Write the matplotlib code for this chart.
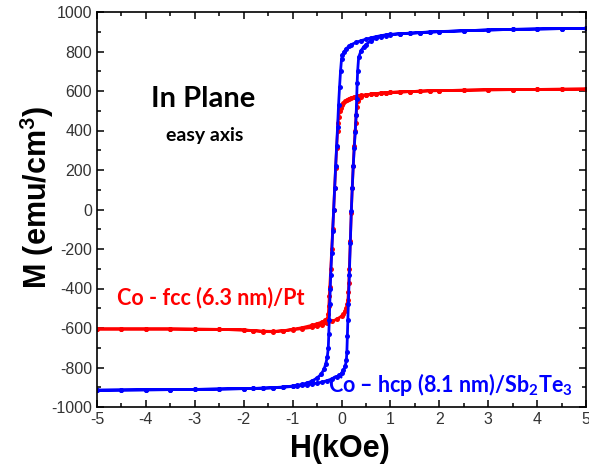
import numpy as np
import matplotlib
matplotlib.use("Agg")
import matplotlib.pyplot as plt
from matplotlib.ticker import MultipleLocator

plt.rcParams['font.family'] = ['Liberation Sans', 'DejaVu Sans']
plt.rcParams['axes.unicode_minus'] = False
plt.rcParams['mathtext.fontset'] = 'custom'
plt.rcParams['mathtext.rm'] = 'Lato:bold'
plt.rcParams['mathtext.it'] = 'Lato:bold'
plt.rcParams['mathtext.bf'] = 'Lato:bold'

# Blue: Co-hcp (8.1 nm)/Sb2Te3 -- descending branch (+5 -> -5)
H_bd = [5, 4.5, 4, 3.5, 3, 2.5, 2, 1.8, 1.6, 1.4, 1.2, 1.0, 0.9, 0.8, 0.7, 0.6, 0.5, 0.4, 0.3, 0.2,
        0.15, 0.1, 0.05, 0.02, 0.0, -0.02, -0.04, -0.06, -0.08, -0.10, -0.12, -0.14, -0.16, -0.18, -0.20,
        -0.22, -0.23, -0.24, -0.25, -0.26, -0.27, -0.29, -0.32, -0.36, -0.42, -0.5, -0.6, -0.7, -0.8, -0.9,
        -1.0, -1.2, -1.4, -1.6, -1.8, -2, -2.5, -3, -3.5, -4, -4.5, -5]
M_bd = [917, 916, 914, 912, 909, 905, 900, 898, 895, 892, 890, 887, 884, 880, 875, 869, 862, 855, 846, 835,
        826, 815, 798, 782, 760, 700, 620, 530, 420, 320, 220, 110, 0, -110, -220,
        -330, -400, -480, -560, -630, -700, -745, -780, -810, -835, -853, -868, -878, -885, -890,
        -894, -899, -902, -904, -906, -907, -909, -911, -912, -913, -914, -915]
# Blue ascending branch (-5 -> +5)
H_ba = [-5, -4.5, -4, -3.5, -3, -2.5, -2, -1.8, -1.6, -1.4, -1.2, -1.0, -0.9, -0.8, -0.7, -0.6, -0.5, -0.4,
        -0.3, -0.2, -0.1, -0.05, 0.0, 0.04, 0.08, 0.10, 0.11, 0.12, 0.13, 0.14, 0.16, 0.18, 0.20, 0.22,
        0.24, 0.26, 0.28, 0.30, 0.31, 0.32, 0.33, 0.35, 0.40, 0.45, 0.5, 0.6, 0.7, 0.8, 0.9, 1.0, 1.2, 1.4,
        1.6, 1.8, 2, 2.5, 3, 3.5, 4, 4.5, 5]
M_ba = [-915, -914, -913, -912, -911, -909, -907, -906, -905, -903, -900, -896, -894, -891, -887, -883, -879, -874,
        -867, -858, -847, -840, -830, -815, -790, -760, -720, -640, -560, -480, -330, -170, -10, 110,
        220, 310, 390, 480, 560, 640, 700, 770, 805, 822, 835, 855, 867, 875, 881, 885, 890, 893,
        896, 899, 901, 905, 909, 912, 914, 916, 917]

# Red: Co-fcc (6.3 nm)/Pt -- descending branch (+5 -> -5)
H_rd = [5, 4.5, 4, 3.5, 3, 2.5, 2, 1.8, 1.6, 1.4, 1.2, 1.0, 0.9, 0.8, 0.7, 0.6, 0.5, 0.4, 0.33, 0.25,
        0.2, 0.15, 0.12, 0.08, 0.04, 0.0, -0.02, -0.04, -0.06, -0.07, -0.08, -0.10, -0.12, -0.14, -0.16,
        -0.18, -0.20, -0.22, -0.24, -0.25, -0.26, -0.27, -0.29, -0.33, -0.4, -0.5, -0.6, -0.8, -1.0, -1.2,
        -1.4, -1.6, -1.8, -2, -2.5, -3, -3.5, -4, -4.5, -5]
M_rd = [610, 609, 608, 607, 606, 604, 602, 601, 599, 597, 595, 593, 591, 589, 587, 584, 581, 578, 575, 569,
        565, 561, 556, 549, 540, 528, 515, 498, 470, 440, 400, 310, 210, 110, 0,
        -100, -200, -300, -390, -440, -490, -530, -552, -562, -570, -578, -586, -598, -607, -614,
        -619, -618, -614, -610, -607, -606, -605, -605, -605, -605]
# Red ascending branch (-5 -> +5)
H_ra = [-5, -4.5, -4, -3.5, -3, -2.5, -2, -1.8, -1.6, -1.4, -1.2, -1.0, -0.8, -0.6, -0.5, -0.4, -0.3, -0.2,
        -0.1, 0.0, 0.04, 0.08, 0.1, 0.12, 0.13, 0.14, 0.15, 0.16, 0.18, 0.20, 0.22, 0.24, 0.26, 0.28, 0.29,
        0.30, 0.31, 0.33, 0.36, 0.4, 0.5, 0.6, 0.7, 0.8, 0.9, 1.0, 1.2, 1.4, 1.6, 1.8, 2, 2.5, 3, 3.5, 4,
        4.5, 5]
M_ra = [-605, -605, -605, -605, -606, -607, -610, -613, -616, -617, -614, -609, -603, -597, -590, -584, -576, -567,
        -556, -540, -530, -515, -500, -480, -460, -420, -370, -300, -160, -20, 110, 220, 320, 400, 440,
        480, 520, 550, 565, 572, 580, 584, 587, 589, 591, 593, 595, 597, 599, 601, 602, 604, 606, 607, 608,
        609, 610]

x_label = 'H(kOe)'
y_label = r'M (emu/cm$^{\mathbf{3}}$)'
title1 = 'In Plane'
title2 = 'easy axis'
red_label = 'Co - fcc (6.3 nm)/Pt'
blue_label = r'Co – hcp (8.1 nm)/Sb$_2$Te$_3$'

W, Hh = 589, 468
fig = plt.figure(figsize=(W / 100, Hh / 100), dpi=100)
L, R, T, B = 97, 586, 12, 407
ax = fig.add_axes([L / W, 1 - B / Hh, (R - L) / W, (B - T) / Hh])

ax.plot(H_rd + H_ra, M_rd + M_ra, color='#ff0000', lw=2.0, marker='o', ms=3.6, mew=0)
ax.plot(H_bd + H_ba, M_bd + M_ba, color='#0000ff', lw=2.0, marker='o', ms=3.6, mew=0)

ax.set_xlim(-5, 5)
ax.set_ylim(-1000, 1000)
ax.xaxis.set_major_locator(MultipleLocator(1))
ax.xaxis.set_minor_locator(MultipleLocator(0.5))
ax.yaxis.set_major_locator(MultipleLocator(200))
ax.yaxis.set_minor_locator(MultipleLocator(100))
ax.tick_params(which='both', direction='in', top=True, right=True, width=1.1, labelsize=11.5,
               labelcolor='#333333')
ax.tick_params(which='major', length=5)
ax.tick_params(which='minor', length=3)
for s in ax.spines.values():
    s.set_linewidth(1.2)

ax.text(-2.82, 560, title1, fontsize=21, fontweight='bold', family='Lato', ha='center', va='center')
ax.text(-2.8, 377, title2, fontsize=14, fontweight='bold', family='Lato', ha='center', va='center')
ax.text(-2.67, -448, red_label, fontsize=15.5, fontweight='bold', family='Lato', color='#ff0000',
        ha='center', va='center')
ax.text(2.22, -885, blue_label, fontsize=15.5, fontweight='bold', family='Lato', color='#0000ff',
        ha='center', va='center')

fig.text(340 / W, 1 - 449 / Hh, x_label, fontsize=22, fontweight='bold', ha='center', va='center')
fig.text(37 / W, 1 - 197 / Hh, y_label, fontsize=22, fontweight='bold', ha='center', va='center',
         rotation=90)

fig.savefig('out.png', dpi=100)
